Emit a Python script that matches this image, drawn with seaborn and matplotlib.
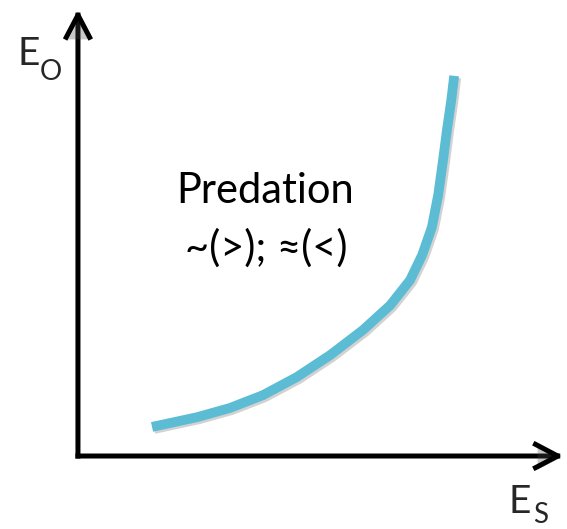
import matplotlib
matplotlib.use("Agg")
import matplotlib.pyplot as plt
import matplotlib.patheffects as pe
import pandas as pd
import seaborn as sns

# Effort of the self (E_S) against effort of the other (E_O), axes span 0..10
effort_self = [1.53, 2.46, 3.14, 3.82, 4.52, 5.21, 5.89, 6.45, 6.86, 7.11,
               7.31, 7.44, 7.54, 7.62, 7.71, 7.77]
effort_other = [0.66, 0.88, 1.09, 1.38, 1.79, 2.29, 2.86, 3.42, 3.99, 4.56,
                5.19, 5.92, 6.71, 7.39, 8.07, 8.62]

title_text = "Predation"
relation_text = "~(>); \u2248(<)"
x_label = ("E", "S")
y_label = ("E", "O")

curve_color = "#5BBCD3"
font_name = "Lato"

sns.set_theme(style="white")
plt.rcParams["font.family"] = [font_name, "DejaVu Sans"]

fig = plt.figure(figsize=(5.67, 5.29), dpi=100)
ax = fig.add_axes([0, 0, 1, 1])

shadow = [pe.SimpleLineShadow(offset=(1.5, -1.5), shadow_color="gray", alpha=0.35), pe.Normal()]

# Axis arrows
arrow_kw = dict(arrowstyle="->, head_length=0.8, head_width=0.42",
                color="black", lw=3.6, mutation_scale=20,
                shrinkA=0, shrinkB=0, capstyle="projecting")
for end in [(10.02, 0.0), (0.0, 10.12)]:
    ann = ax.annotate("", xy=end, xytext=(0.0, 0.0), arrowprops=arrow_kw)
    ann.arrow_patch.set_path_effects([pe.SimplePatchShadow(offset=(1.5, -1.5), alpha=0.3), pe.Normal()])

df = pd.DataFrame({"Es": effort_self, "Eo": effort_other})
sns.lineplot(data=df, x="Es", y="Eo", sort=False, ax=ax, color=curve_color,
             lw=7, solid_capstyle="butt", solid_joinstyle="round",
             path_effects=shadow, legend=False)
ax.set_xlim(-1.61, 10.10)
ax.set_ylim(-1.655, 10.34)
ax.axis("off")

ax.text(3.86, 5.74, title_text, ha="center", va="baseline", fontsize=30, color="black")
ax.text(3.88, 4.42, relation_text, ha="center", va="baseline", fontsize=30, color="black")

# Axis labels with subscripts
ax.text(-1.02, 8.87, y_label[0], ha="center", va="baseline", fontsize=28)
ax.text(-0.56, 8.53, y_label[1], ha="center", va="baseline", fontsize=20)
ax.text(9.13, -1.29, x_label[0], ha="center", va="baseline", fontsize=28)
ax.text(9.55, -1.52, x_label[1], ha="center", va="baseline", fontsize=20)

fig.savefig("out.png", dpi=100)
